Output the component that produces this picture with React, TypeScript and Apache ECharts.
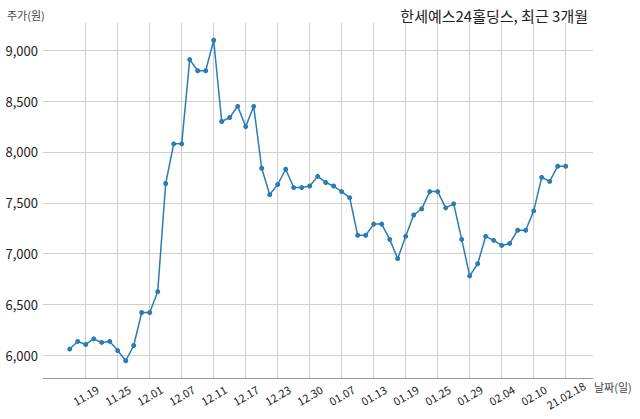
import React, { useEffect, useRef } from "react";
import * as echarts from "echarts";

// 거래일 (2020.11.17 ~ 2021.02.18)
const dates = [
  "11.17", "11.18", "11.19", "11.20", "11.23", "11.24", "11.25", "11.26", "11.27", "11.30",
  "12.01", "12.02", "12.03", "12.04", "12.07", "12.08", "12.09", "12.10", "12.11", "12.14",
  "12.15", "12.16", "12.17", "12.18", "12.21", "12.22", "12.23", "12.24", "12.28", "12.29",
  "12.30", "01.04", "01.05", "01.06", "01.07", "01.08", "01.11", "01.12", "01.13", "01.14",
  "01.15", "01.18", "01.19", "01.20", "01.21", "01.22", "01.25", "01.26", "01.27", "01.28",
  "01.29", "02.01", "02.02", "02.03", "02.04", "02.05", "02.08", "02.09", "02.10", "02.15",
  "02.16", "02.17", "21.02.18",
];

const prices = [
  6060, 6135, 6105, 6160, 6125, 6135, 6045, 5945, 6095, 6420,
  6420, 6625, 7690, 8080, 8080, 8910, 8800, 8800, 9100, 8300,
  8340, 8450, 8250, 8450, 7840, 7580, 7680, 7830, 7650, 7650,
  7665, 7760, 7700, 7665, 7610, 7550, 7180, 7180, 7290, 7290,
  7140, 6950, 7170, 7380, 7440, 7610, 7610, 7450, 7490, 7140,
  6780, 6900, 7170, 7130, 7080, 7100, 7230, 7230, 7420, 7750,
  7710, 7860, 7860,
];

const yMin = 5775;
const yMax = 9270;

const FONT = "'Noto Sans CJK KR', 'Noto Sans', sans-serif";
const showTick = (i: number) => i % 4 === 2;

const App: React.FC = () => {
  const chartRef = useRef<HTMLDivElement>(null);

  useEffect(() => {
    if (!chartRef.current) return;
    const chart = echarts.init(chartRef.current, undefined, { renderer: "svg" });
    const option = {
      animation: false,
      textStyle: { fontFamily: FONT },
      title: {
        text: "한세예스24홀딩스, 최근 3개월",
        right: 47,
        top: 3,
        textStyle: { fontFamily: FONT, fontSize: 15, fontWeight: "normal", color: "#222" },
      },
      graphic: [
        {
          type: "text",
          left: 7,
          top: 9,
          style: { text: "주가(원)", fontFamily: FONT, fontSize: 11, fill: "#444" },
        },
        {
          type: "text",
          left: 594,
          top: 381,
          style: { text: "날짜(일)", fontFamily: FONT, fontSize: 11, fill: "#444" },
        },
      ],
      grid: [
        { left: 43, right: 47, top: 23, bottom: 41 },
        { left: 69.7, right: 74.3, top: 23, bottom: 41 },
      ],
      xAxis: [
        {
          type: "value",
          gridIndex: 0,
          min: 0,
          max: 1,
          axisLine: { show: true, lineStyle: { color: "#999", width: 1 } },
          axisTick: { show: false },
          axisLabel: { show: false },
          splitLine: { show: false },
        },
        {
          type: "category",
          gridIndex: 1,
          data: dates,
          boundaryGap: false,
          axisLine: { show: false },
          axisTick: { show: false },
          axisLabel: {
            interval: (i: number) => showTick(i),
            rotate: 30,
            align: "center",
            verticalAlign: "middle",
            margin: 17,
            fontSize: 11,
            color: "#222",
            fontFamily: FONT,
          },
          splitLine: {
            show: true,
            interval: (i: number) => showTick(i),
            lineStyle: { color: "#cfcfcf", width: 1 },
          },
        },
      ],
      yAxis: [
        {
          type: "value",
          gridIndex: 0,
          min: yMin,
          max: yMax,
          splitNumber: 7,
          axisLine: { show: false },
          axisTick: { show: false },
          axisLabel: {
            showMinLabel: false,
            showMaxLabel: false,
            margin: 5,
            fontSize: 13,
            color: "#222",
            fontFamily: FONT,
            formatter: (v: number) => v.toLocaleString("en-US"),
          },
          splitLine: {
            show: true,
            showMinLine: false,
            showMaxLine: false,
            lineStyle: { color: "#cfcfcf", width: 1 },
          },
        },
        {
          type: "value",
          gridIndex: 1,
          min: yMin,
          max: yMax,
          show: false,
          splitLine: { show: false },
        },
      ],
      series: [
        {
          type: "line",
          xAxisIndex: 1,
          yAxisIndex: 1,
          data: prices,
          symbol: "circle",
          symbolSize: 5,
          showSymbol: true,
          lineStyle: { color: "#2b7bb4", width: 1.5 },
          itemStyle: { color: "#2b7bb4" },
        },
      ],
    };
    chart.setOption(option);
    return () => chart.dispose();
  }, []);

  return (
    <div
      ref={chartRef}
      style={{ position: "fixed", left: 0, top: 0, width: "640px", height: "419px", background: "#fff" }}
    ></div>
  );
};

export default App;
